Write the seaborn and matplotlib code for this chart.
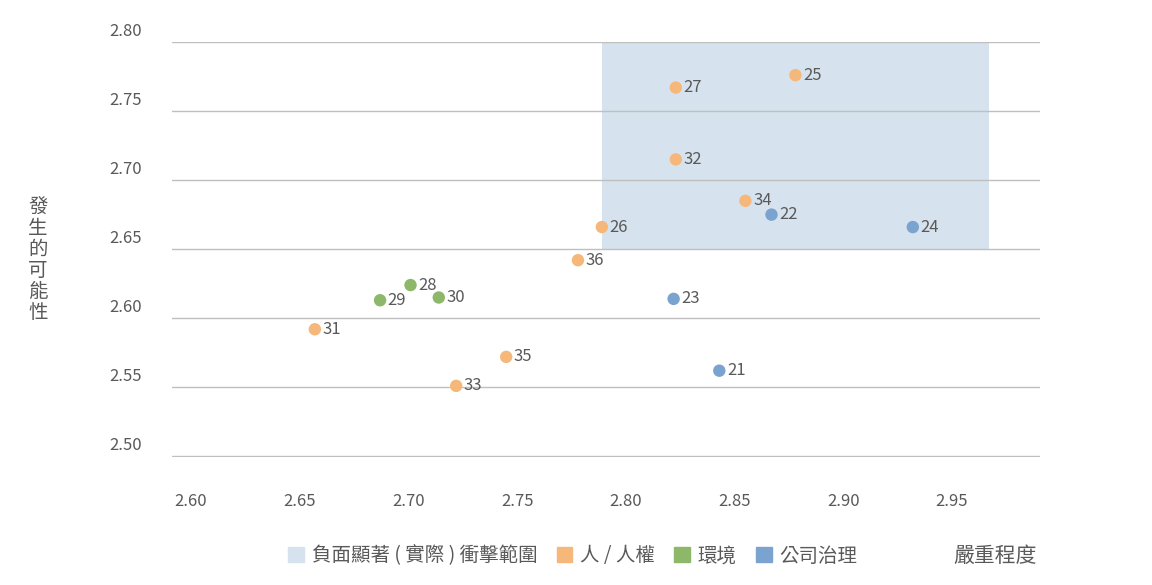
import matplotlib
matplotlib.use('Agg')
import matplotlib.pyplot as plt
import matplotlib.transforms as mtransforms
from matplotlib.patches import Rectangle, Patch
import seaborn as sns
import pandas as pd

plt.rcParams['font.family'] = ['Noto Sans CJK TC', 'DejaVu Sans']

labels = ['25', '27', '32', '34', '26', '36', '31', '35', '33',
          '28', '29', '30',
          '22', '24', '23', '21']
severity = [2.878, 2.823, 2.823, 2.855, 2.789, 2.778, 2.657, 2.745, 2.722,
            2.701, 2.687, 2.714,
            2.867, 2.932, 2.822, 2.843]
likelihood = [2.776, 2.767, 2.715, 2.685, 2.666, 2.642, 2.592, 2.572, 2.551,
              2.624, 2.613, 2.615,
              2.675, 2.666, 2.614, 2.562]
groups = ['人 / 人權'] * 9 + ['環境'] * 3 + ['公司治理'] * 4
palette = {'人 / 人權': '#F6B87A', '環境': '#8DB86A', '公司治理': '#7BA3CF'}
zone_x = (2.789, 2.967)
zone_y = (2.650, 2.800)

df = pd.DataFrame({'x': severity, 'y': likelihood, 'g': groups, 'lab': labels})

fig = plt.figure(figsize=(11.52, 5.85), dpi=100)
ax = fig.add_axes([0.1493, 0.2188, 0.7535, 0.7094])
grey = '#595959'

ax.add_patch(Rectangle((zone_x[0], zone_y[0]), zone_x[1] - zone_x[0], zone_y[1] - zone_y[0],
                       facecolor='#D6E3EE', edgecolor='none', zorder=0))
sns.scatterplot(data=df, x='x', y='y', hue='g', palette=palette, s=80,
                edgecolor='none', ax=ax, legend=False, zorder=3)
for _, r in df.iterrows():
    ax.text(r.x + 0.0035, r.y, r.lab, va='center', ha='left', fontsize=12, color=grey)

ax.set_xlim(2.5913, 2.9905)
ax.set_ylim(2.4995, 2.80)
ax.set_xticks([2.60, 2.65, 2.70, 2.75, 2.80, 2.85, 2.90, 2.95])
ax.set_yticks([2.50, 2.55, 2.60, 2.65, 2.70, 2.75, 2.80])
ax.xaxis.set_major_formatter(matplotlib.ticker.FormatStrFormatter('%.2f'))
ax.yaxis.set_major_formatter(matplotlib.ticker.FormatStrFormatter('%.2f'))
ax.tick_params(length=0, labelsize=12, colors=grey)
ax.tick_params(axis='x', pad=26)
ax.tick_params(axis='y', pad=22)
shift = mtransforms.ScaledTranslation(0, 13 / 100, fig.dpi_scale_trans)
for lbl in ax.get_yticklabels():
    lbl.set_transform(lbl.get_transform() + shift)
ax.grid(axis='y', color='#BFBFBF', linewidth=1)
ax.set_axisbelow(True)
for s in ax.spines.values():
    s.set_visible(False)
ax.set_xlabel('')
ax.set_ylabel('')

fig.text(38 / 1152, 1 - 260 / 585, '\n'.join('發生的可能性'), ha='center', va='center',
         fontsize=14, color=grey, linespacing=1.0)
fig.text(995 / 1152, 1 - 556 / 585, '嚴重程度', ha='center', va='center', fontsize=15, color=grey)

handles = [Patch(color='#D6E3EE', label='負面顯著 ( 實際 ) 衝擊範圍')] + \
          [Patch(color=c, label=k) for k, c in palette.items()]
fig.legend(handles=handles, loc='center', bbox_to_anchor=(573 / 1152, 1 - 556 / 585), ncol=4,
           frameon=False, fontsize=14, labelcolor=grey, handlelength=0.8, handleheight=0.8,
           handletextpad=0.4, columnspacing=1.0)

fig.savefig('out.png', dpi=100)
